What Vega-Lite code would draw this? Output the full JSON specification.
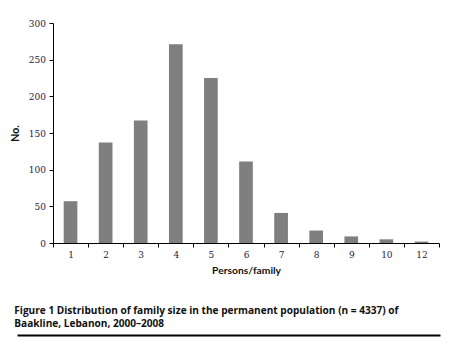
{
  "$schema": "https://vega.github.io/schema/vega-lite/v6.json",
  "padding": {"left": 10, "top": 19, "right": 5, "bottom": 5},
  "background": "white",
  "spacing": 29,
  "config": {"view": {"stroke": null}, "font": "Lato"},
  "vconcat": [
    {
      "width": 386,
      "height": 220,
      "data": {"values": [
        {"persons": "1", "count": 57},
        {"persons": "2", "count": 137},
        {"persons": "3", "count": 167},
        {"persons": "4", "count": 271},
        {"persons": "5", "count": 225},
        {"persons": "6", "count": 111},
        {"persons": "7", "count": 41},
        {"persons": "8", "count": 17},
        {"persons": "9", "count": 9},
        {"persons": "10", "count": 5},
        {"persons": "12", "count": 2}
      ]},
      "mark": {"type": "bar", "color": "#7f7f7f", "width": {"band": 0.39}},
      "encoding": {
        "x": {
          "field": "persons", "type": "nominal", "sort": null,
          "scale": {"paddingInner": 0, "paddingOuter": 0},
          "axis": {
            "title": "Persons/family", "labelAngle": 0, "tickBand": "extent",
            "labelFont": "DejaVu Serif", "labelFontSize": 9, "labelColor": "#1f2040",
            "tickSize": 4, "domainColor": "#000", "tickColor": "#000",
            "titleFont": "Lato", "titleFontWeight": "bold", "titleFontSize": 10.3, "titleColor": "#111",
            "titlePadding": 6, "labelPadding": 3
          }
        },
        "y": {
          "field": "count", "type": "quantitative",
          "scale": {"domain": [0, 300]},
          "axis": {
            "title": "No.", "values": [0, 50, 100, 150, 200, 250, 300], "grid": false,
            "tickSize": 4, "labelPadding": 3.5, "domainColor": "#000", "tickColor": "#000",
            "labelFont": "DejaVu Serif", "labelFontSize": 9, "labelColor": "#1f2040",
            "titleFont": "Lato", "titleFontWeight": "bold", "titleFontSize": 10.5, "titleColor": "#111",
            "titlePadding": 8
          }
        }
      }
    },
    {
      "width": 386,
      "height": 1,
      "data": {"values": [{"v": 0}]},
      "title": {
        "text": ["Figure 1 Distribution of family size in the permanent population (n = 4337) of", "Baakline, Lebanon, 2000–2008"],
        "anchor": "start", "orient": "top", "frame": "bounds", "font": "Open Sans", "fontWeight": "bold", "fontSize": 10.1,
        "lineHeight": 13, "color": "#111", "offset": 3
      },
      "mark": {"type": "point", "opacity": 0},
      "encoding": {
        "x": {
          "field": "v", "type": "quantitative",
          "scale": {"domain": [0, 1], "range": [-36, 387]},
          "axis": {"domainWidth": 2, "domainColor": "#000", "ticks": false, "labels": false, "grid": false, "title": null}
        }
      }
    }
  ]
}
